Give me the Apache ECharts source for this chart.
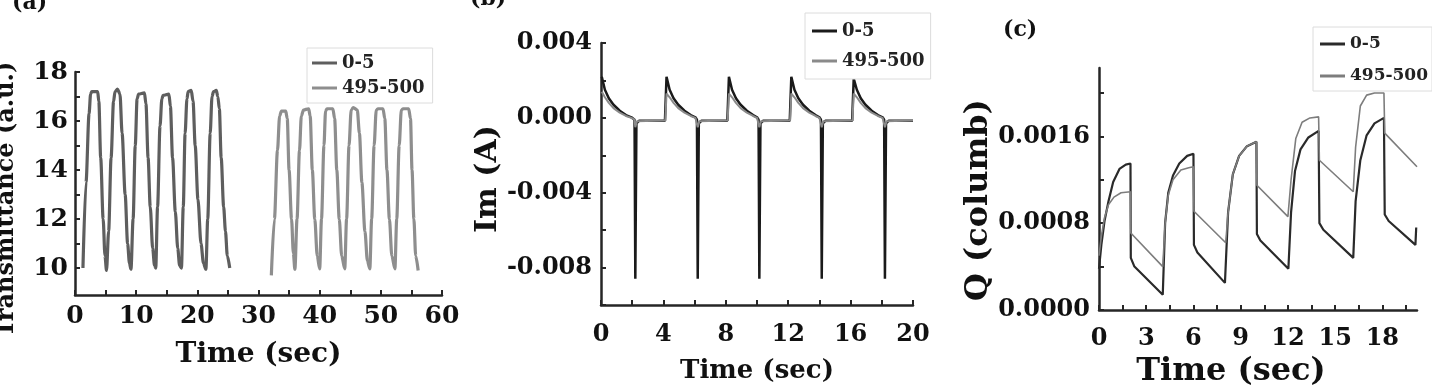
<!DOCTYPE html>
<html><head><meta charset="utf-8">
<script src="https://cdn.jsdelivr.net/npm/echarts@6/dist/echarts.min.js"></script>
<style>html,body{margin:0;padding:0;background:#fff}#c{width:1432px;height:392px}</style>
</head><body><div id="c"></div>
<script>
// ---------- data ----------
const seriesNames = ['0-5', '495-500'];

// panel (a): transmittance vs time
const transA_0_5 = [
  [1.3,10.0],[1.8,13.5],[2.3,16.3],[2.55,17.1],[2.75,17.2],[3.7,17.2],[3.9,16.8],[4.2,14.5],[4.6,12.0],[4.9,10.5],[5.15,9.9],
  [5.5,11.5],[5.9,14.5],[6.3,16.8],[6.55,17.2],[6.95,17.3],[7.35,17.1],[7.7,15.5],[8.2,13.0],[8.6,11.0],[8.9,10.2],[9.15,9.95],
  [9.5,12.0],[9.85,15.0],[10.15,16.9],[10.4,17.1],[11.35,17.15],[11.6,16.7],[11.95,14.5],[12.3,12.5],[12.7,10.8],[13.0,10.1],[13.2,10.0],
  [13.5,12.5],[13.9,15.8],[14.2,16.9],[14.4,17.05],[15.35,17.1],[15.6,16.6],[15.95,14.5],[16.4,12.3],[16.8,10.8],[17.1,10.1],[17.4,10.0],
  [17.7,12.5],[18.0,15.5],[18.3,16.9],[18.5,17.2],[19.0,17.25],[19.3,16.8],[19.65,15.0],[20.1,12.8],[20.6,11.0],[21.0,10.2],[21.4,9.95],
  [21.7,12.0],[22.1,15.5],[22.4,17.0],[22.65,17.2],[23.1,17.25],[23.35,17.0],[23.6,16.5],[23.9,14.5],[24.3,12.5],[24.6,11.5],[24.9,10.5],[25.3,10.0]
];
const transA_495_500 = [
  [32.1,9.7],[32.6,12.0],[33.1,14.8],[33.45,16.2],[33.75,16.4],[34.45,16.4],[34.7,16.1],[35.0,14.0],[35.4,12.0],[35.7,10.6],[35.95,9.95],
  [36.3,12.0],[36.7,14.8],[37.0,16.2],[37.35,16.45],[38.2,16.5],[38.45,16.2],[38.8,14.0],[39.2,12.0],[39.6,10.5],[40.0,9.97],
  [40.3,12.0],[40.7,15.0],[40.96,16.4],[41.2,16.5],[42.15,16.5],[42.45,16.1],[42.8,14.0],[43.2,12.0],[43.6,10.5],[44.1,9.97],
  [44.4,12.0],[44.8,15.0],[45.15,16.45],[45.5,16.55],[46.15,16.45],[46.5,15.5],[46.9,13.5],[47.4,11.5],[47.8,10.3],[48.2,9.97],
  [48.5,12.0],[48.9,15.0],[49.25,16.45],[49.55,16.5],[50.35,16.5],[50.65,16.1],[51.0,14.0],[51.4,12.0],[51.8,10.5],[52.3,9.97],
  [52.6,12.0],[53.0,15.0],[53.35,16.45],[53.65,16.5],[54.55,16.5],[54.85,16.1],[55.1,14.0],[55.4,12.0],[55.7,10.5],[56.1,9.9]
];

// panel (b): current vs time
const currentB_0_5 = [
  [0.05,0.0022],[0.25,0.0015],[0.5,0.00105],[0.8,0.0007],[1.2,0.00038],[1.6,0.00015],[1.95,0.00003],[2.15,-0.0001],[2.2,-0.0086],[2.27,-0.0003],[2.45,-0.00015],[4.1,-0.00015],
  [4.2,0.0022],[4.4,0.0015],[4.65,0.00105],[4.95,0.0007],[5.35,0.00038],[5.75,0.00015],[6.05,0.00003],[6.15,-0.0001],[6.2,-0.0086],[6.27,-0.0003],[6.45,-0.00015],[8.1,-0.00015],
  [8.2,0.0022],[8.4,0.0015],[8.65,0.00105],[8.95,0.0007],[9.35,0.00038],[9.75,0.00015],[10.0,0.00003],[10.1,-0.0001],[10.15,-0.0086],[10.22,-0.0003],[10.4,-0.00015],[12.1,-0.00015],
  [12.2,0.0022],[12.4,0.0015],[12.65,0.00105],[12.95,0.0007],[13.35,0.00038],[13.75,0.00015],[14.0,0.00003],[14.1,-0.0001],[14.15,-0.0086],[14.22,-0.0003],[14.4,-0.00015],[16.1,-0.00015],
  [16.2,0.0021],[16.4,0.0015],[16.65,0.00105],[16.95,0.0007],[17.35,0.00038],[17.75,0.00015],[18.05,0.00003],[18.15,-0.0001],[18.2,-0.0086],[18.27,-0.0003],[18.45,-0.00015],[20.0,-0.00015]
];
const currentB_495_500 = [
  [0.05,0.0014],[0.25,0.0011],[0.5,0.0008],[0.8,0.00052],[1.2,0.00028],[1.6,0.0001],[1.95,0.0],[2.15,-0.0001],[2.2,-0.0005],[2.3,-0.00018],[4.12,-0.00014],
  [4.2,0.0013],[4.4,0.0011],[4.65,0.0008],[4.95,0.00052],[5.35,0.00028],[5.75,0.0001],[6.05,0.0],[6.15,-0.0001],[6.2,-0.0005],[6.3,-0.00018],[8.12,-0.00014],
  [8.2,0.0013],[8.4,0.0011],[8.65,0.0008],[8.95,0.00052],[9.35,0.00028],[9.75,0.0001],[10.0,0.0],[10.1,-0.0001],[10.15,-0.0005],[10.25,-0.00018],[12.12,-0.00014],
  [12.2,0.0013],[12.4,0.0011],[12.65,0.0008],[12.95,0.00052],[13.35,0.00028],[13.75,0.0001],[14.0,0.0],[14.1,-0.0001],[14.15,-0.0005],[14.25,-0.00018],[16.12,-0.00014],
  [16.2,0.0013],[16.4,0.0011],[16.65,0.0008],[16.95,0.00052],[17.35,0.00028],[17.75,0.0001],[18.05,0.0],[18.15,-0.0001],[18.2,-0.0005],[18.3,-0.00018],[20.0,-0.00014]
];

// panel (c): charge vs time
const chargeC_0_5 = [
  [0,0.00038],[0.15,0.0006],[0.35,0.00082],[0.6,0.001],[0.9,0.00118],[1.3,0.0013],[1.7,0.00134],[2.0,0.00135],
  [2.02,0.00048],[2.25,0.0004],[4.05,0.00014],
  [4.2,0.0008],[4.4,0.00108],[4.7,0.00124],[5.1,0.00135],[5.6,0.00142],[6.0,0.00144],
  [6.03,0.0006],[6.25,0.00053],[8.0,0.00025],
  [8.2,0.0009],[8.5,0.00125],[8.9,0.00142],[9.4,0.00151],[10.0,0.00155],
  [10.03,0.0007],[10.25,0.00064],[12.03,0.00038],
  [12.2,0.0009],[12.45,0.00128],[12.8,0.00148],[13.3,0.00159],[13.95,0.00165],
  [14.0,0.0008],[14.25,0.00074],[16.15,0.00048],
  [16.3,0.001],[16.6,0.00138],[17.0,0.00161],[17.5,0.00172],[18.1,0.00177],
  [18.15,0.00088],[18.4,0.00082],[20.1,0.0006],[20.15,0.00076]
];
const chargeC_495_500 = [
  [0,0.0005],[0.15,0.00068],[0.35,0.00085],[0.6,0.00097],[0.95,0.00104],[1.4,0.00108],[2.0,0.00109],
  [2.02,0.00071],[4.05,0.0004],
  [4.2,0.0008],[4.4,0.00106],[4.7,0.0012],[5.2,0.00129],[5.7,0.00131],[6.0,0.00132],
  [6.03,0.00091],[8.05,0.00062],
  [8.2,0.0009],[8.5,0.00125],[8.9,0.00142],[9.4,0.00151],[10.0,0.00155],
  [10.03,0.00115],[12.0,0.00086],
  [12.2,0.0012],[12.5,0.00158],[12.9,0.00173],[13.4,0.00177],[13.95,0.00178],
  [14.0,0.00138],[16.15,0.00109],
  [16.3,0.0015],[16.6,0.00188],[17.0,0.00198],[17.5,0.002],[18.1,0.002],
  [18.15,0.00163],[20.2,0.00132]
];

// tick positions / labels
const xLabelsA = [0,10,20,30,40,50,60];
const xTicksA  = [0,5,10,15,20,25,30,35,40,45,50,55,60];
const yLabelsA = [10,12,14,16,18];
const yTicksA  = [10,11,12,13,14,15,16,17,18];
const xLabelsB = [0,4,8,12,16,20];
const xTicksB  = [0,2,4,6,8,10,12,14,16,18,20];
const yLabelsB = [-0.008,-0.004,0,0.004];
const yTicksB  = [-0.010,-0.008,-0.006,-0.004,-0.002,0,0.002,0.004];
const xLabelsC = [0,3,6,9,12,15,18];
const xTicksC  = [0,1.5,3,4.5,6,7.5,9,10.5,12,13.5,15,16.5,18,19.5];
const yLabelsC = [0,0.0008,0.0016];
const yTicksC  = [0,0.0004,0.0008,0.0012,0.0016,0.002];

const panelTitles = ['(a)', '(b)', '(c)'];
const xNames = ['Time (sec)', 'Time (sec)', 'Time (sec)'];
const yNames = ['Transmittance (a.u.)', 'Im (A)', 'Q (columb)'];

// ---------- styling ----------
const FONT = 'DejaVu Serif';
const axisCol = '#262626';
function xAxisCfg(idx, min, max, labels, ticks, fs, nameFs, nameGap, margin, namePad) {
  return {
    type: 'value', gridIndex: idx, min: min, max: max,
    name: xNames[idx], nameLocation: 'middle', nameGap: nameGap,
    nameTextStyle: {fontFamily: FONT, fontWeight: 'bold', fontSize: nameFs, color: '#111', padding: namePad},
    axisLine: {show: true, onZero: false, lineStyle: {color: axisCol, width: 2.5}},
    axisTick: {show: true, inside: true, length: 5, customValues: ticks, lineStyle: {color: axisCol, width: 2}},
    axisLabel: {customValues: labels, fontFamily: FONT, fontWeight: 'bold', fontSize: fs, color: '#111', margin: margin},
    splitLine: {show: false}
  };
}
function yAxisCfg(idx, min, max, labels, ticks, fs, nameFs, nameGap, margin, fmt, namePad) {
  return {
    type: 'value', gridIndex: idx, min: min, max: max,
    name: yNames[idx], nameLocation: 'middle', nameGap: nameGap,
    nameTextStyle: {fontFamily: FONT, fontWeight: 'bold', fontSize: nameFs, color: '#111', padding: namePad},
    axisLine: {show: true, onZero: false, lineStyle: {color: axisCol, width: 2.5}},
    axisTick: {show: true, inside: true, length: 5, customValues: ticks, lineStyle: {color: axisCol, width: 2}},
    axisLabel: {customValues: labels, fontFamily: FONT, fontWeight: 'bold', fontSize: fs, color: '#111', margin: margin, formatter: fmt},
    splitLine: {show: false}
  };
}
function legendCfg(left, top, fs, gap, pad, colors) {
  return {
    left: left, top: top, orient: 'vertical', icon: 'rect',
    itemWidth: 25, itemHeight: 3, itemGap: gap, padding: pad,
    borderColor: '#dcdcdc', borderWidth: 1, backgroundColor: '#fff',
    selectedMode: false,
    textStyle: {fontFamily: FONT, fontWeight: 'bold', fontSize: fs, color: '#222', lineHeight: 20},
    data: seriesNames.map((n, i) => ({name: n, itemStyle: {color: colors[i]}}))
  };
}
function lineSeries(name, data, xi, color, width, smooth, z) {
  return {
    type: 'line', name: name, data: data, xAxisIndex: xi, yAxisIndex: xi,
    showSymbol: false, symbol: 'none', smooth: smooth, smoothMonotone: smooth ? 'x' : undefined,
    lineStyle: {color: color, width: width}, itemStyle: {color: color}, z: z
  };
}

const colA = ['#5e5e5e', '#8e8e8e'];
const colB = ['#1a1a1a', '#8a8a8a'];
const colC = ['#2a2a2a', '#7d7d7d'];

const option = {
  animation: false,
  backgroundColor: '#fff',
  title: [
    {text: panelTitles[0], left: 12, top: -8, padding: 0, textStyle: {fontFamily: FONT, fontWeight: 'bold', fontSize: 22, color: '#111'}},
    {text: panelTitles[1], left: 470, top: -12, padding: 0, textStyle: {fontFamily: FONT, fontWeight: 'bold', fontSize: 22, color: '#111'}},
    {text: panelTitles[2], left: 1003, top: 19, padding: 0, textStyle: {fontFamily: FONT, fontWeight: 'bold', fontSize: 22, color: '#111'}}
  ],
  grid: [
    {left: 75, top: 72, width: 367, height: 223, outerBoundsMode: 'none'},
    {left: 601, top: 43, width: 312, height: 262, outerBoundsMode: 'none'},
    {left: 1099, top: 68, width: 318, height: 242, outerBoundsMode: 'none'}
  ],
  legend: [
    legendCfg(307, 48, 18, 5, [5, 8, 5, 5], colA),
    legendCfg(805, 13, 18, 10, [8, 6, 8, 7], colB),
    legendCfg(1313, 27, 17, 12, [7, 4, 5, 7], colC)
  ],
  xAxis: [
    xAxisCfg(0, 0, 60, xLabelsA, xTicksA, 25, 28, 46, 9, 0),
    xAxisCfg(1, 0, 20, xLabelsB, xTicksB, 24, 26, 53, 18, 0),
    xAxisCfg(2, 0, 20.2, xLabelsC, xTicksC, 24, 32, 44, 17, [0, 54, 0, 0])
  ],
  yAxis: [
    yAxisCfg(0, 8.9, 18, yLabelsA, yTicksA, 25, 24, 56, 7, v => String(v), [0, 32, 0, 0]),
    yAxisCfg(1, -0.010, 0.004, yLabelsB, yTicksB, 24, 30, 94, 9, v => v.toFixed(3), [0, 10, 0, 0]),
    yAxisCfg(2, 0, 0.00223, yLabelsC, yTicksC, 24, 32, 104, 9, v => v.toFixed(4), [0, 22, 0, 0])
  ],
  series: [
    lineSeries(seriesNames[0], transA_0_5, 0, colA[0], 3.2, 0.3, 3),
    lineSeries(seriesNames[1], transA_495_500, 0, colA[1], 3.2, 0.3, 3),
    lineSeries(seriesNames[0], currentB_0_5, 1, colB[0], 2.5, false, 3),
    lineSeries(seriesNames[1], currentB_495_500, 1, colB[1], 2, false, 4),
    lineSeries(seriesNames[0], chargeC_0_5, 2, colC[0], 2.2, false, 3),
    lineSeries(seriesNames[1], chargeC_495_500, 2, colC[1], 1.6, false, 4)
  ]
};
const chart = echarts.init(document.getElementById('c'), null, {renderer: 'canvas'});
chart.setOption(option);
</script>
</body></html>
